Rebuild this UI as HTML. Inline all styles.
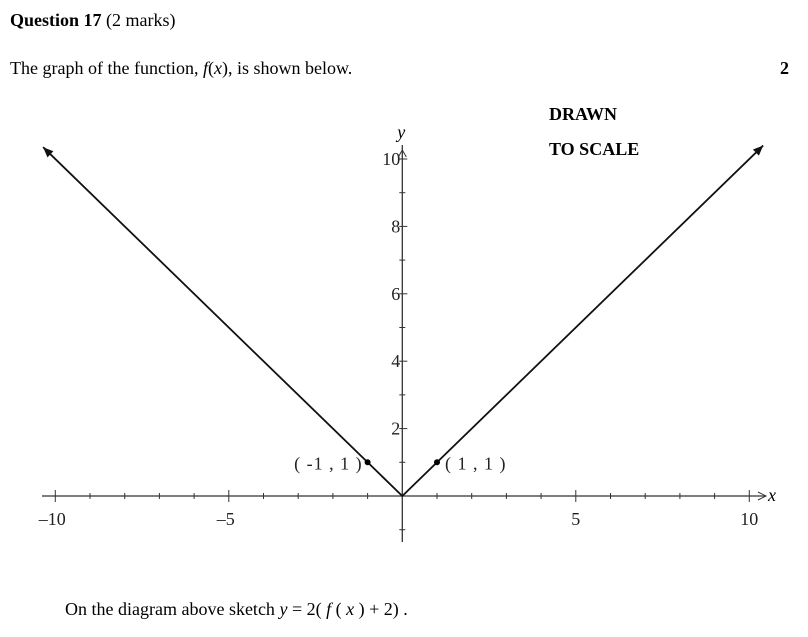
<!DOCTYPE html>
<html><head><meta charset="utf-8"><style>
body{margin:0;width:808px;height:637px;background:#fff;font-family:"Liberation Serif",serif;color:#000;overflow:hidden;position:relative}
.t{position:absolute;font-size:18px;white-space:nowrap}
</style></head><body>
<div class="t" style="left:10px;top:10px"><b>Question 17</b> (2 marks)</div>
<div class="t" style="left:10px;top:58px">The graph of the function, <i>f</i>(<i>x</i>), is shown below.</div>
<div class="t" style="left:780px;top:58px;font-weight:bold">2</div>
<div class="t" style="left:549px;top:104px;font-weight:bold">DRAWN</div>
<div class="t" style="left:549px;top:139px;font-weight:bold">TO SCALE</div>
<div class="t" style="left:65px;top:599px">On the diagram above sketch <i>y</i> = 2( <i>f</i> ( <i>x</i> ) + 2) .</div>
<svg id="c" width="808" height="637" style="position:absolute;left:0;top:0"></svg>
<script>
const lineX=[-10.35,0,10.4];
const lineY=[10.35,0,10.4];
const pointX=[-1,1];
const pointY=[1,1];
const pointLabels=["( -1 , 1 )","( 1 , 1 )"];
const xTickLabels=[-10,-5,5,10];
const yTickLabels=[2,4,6,8,10];
const NS="http://www.w3.org/2000/svg";
const svg=document.getElementById('c');
const ox=402.3,oy=496,sx=34.7,sy=33.7;
const X=v=>ox+v*sx, Y=v=>oy-v*sy;
function mk(t,a){const e=document.createElementNS(NS,t);for(const k in a)e.setAttribute(k,a[k]);svg.appendChild(e);return e;}
let ax=mk('line',{x1:42,y1:oy,x2:766,y2:oy,stroke:'#333','stroke-width':1.3});


let ay=mk('line',{x1:ox,y1:145,x2:ox,y2:542,stroke:'#333','stroke-width':1.3});


mk('path',{d:`M${ox-4},${Y(10)-2} L${ox},${Y(10)-9} L${ox+4},${Y(10)-2}`,fill:'none',stroke:'#333'});
mk('path',{d:`M758,${oy-4} L766,${oy} L758,${oy+4}`,fill:'none',stroke:'#333'});
for(let i=-10;i<=10;i++){if(i===0)continue;const L=(i%5===0)?6:3;mk('line',{x1:X(i),y1:oy-L,x2:X(i),y2:oy+L,stroke:'#333'});}
for(let i=-1;i<=10;i++){if(i===0)continue;const L=(i%2===0)?5:3;mk('line',{x1:ox-3,y1:Y(i),x2:ox+L,y2:Y(i),stroke:'#333'});}
xTickLabels.forEach(v=>{const t=mk('text',{x:X(v)+(v<0?-3:0),y:oy+29,'text-anchor':'middle','font-size':18,'font-family':'Liberation Serif, serif',fill:'#222'});t.textContent=v<0?'\u2013'+(-v):v;

});
yTickLabels.forEach(v=>{const t=mk('text',{x:ox-2,y:Y(v)+6,'text-anchor':'end','font-size':18,'font-family':'Liberation Serif, serif',fill:'#222'});t.textContent=v;

});
let xl=mk('text',{x:768,y:oy+5,'font-size':18,'font-style':'italic','font-family':'Liberation Serif, serif'});xl.textContent='x';


let yl=mk('text',{x:ox-5,y:138,'font-size':18,'font-style':'italic','font-family':'Liberation Serif, serif'});yl.textContent='y';


const pl=mk('polyline',{points:lineX.map((v,i)=>X(v)+','+Y(lineY[i])).join(' '),fill:'none',stroke:'#111','stroke-width':1.8});


function arrow(x0,y0,x1,y1){const a=Math.atan2(y1-y0,x1-x0),L=11,w=0.4;const p1=[x1-L*Math.cos(a-w),y1-L*Math.sin(a-w)],p2=[x1-L*Math.cos(a+w),y1-L*Math.sin(a+w)];
const e=mk('polygon',{points:`${x1},${y1} ${p1} ${p2}`,fill:'#111'});}
arrow(X(lineX[1]),Y(lineY[1]),X(lineX[0]),Y(lineY[0]));
arrow(X(lineX[1]),Y(lineY[1]),X(lineX[2]),Y(lineY[2]));
pointX.forEach((v,i)=>{const c=mk('circle',{cx:X(v),cy:Y(pointY[i]),r:3,fill:'#000'});


const t=mk('text',{x:X(v)+(v<0?-5:8),y:Y(pointY[i])+7,'text-anchor':v<0?'end':'start','font-size':18,'letter-spacing':'1px','font-family':'Liberation Serif, serif',fill:'#222'});t.textContent=pointLabels[i];

});
</script>
</body></html>
